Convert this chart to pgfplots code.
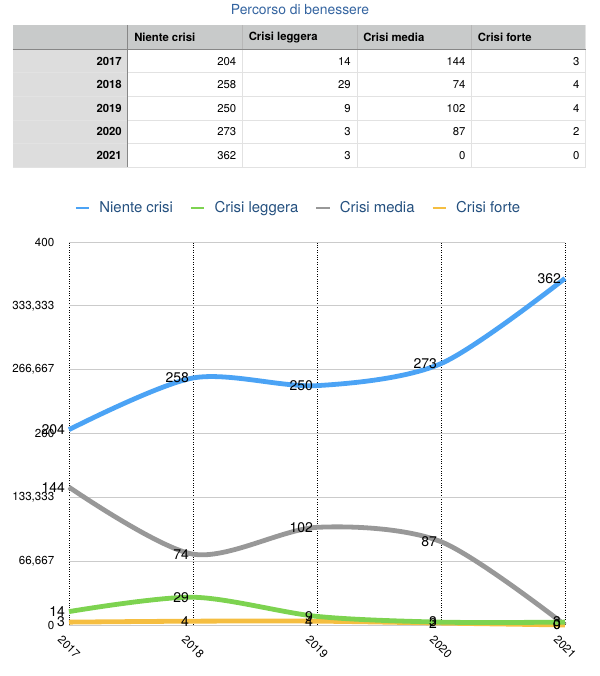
\documentclass[border=0pt]{standalone}
\usepackage{fontspec}
\setmainfont{TeX Gyre Heros}
\usepackage{pgfplots}
\pgfplotsset{compat=1.18}
\definecolor{cBlue}{RGB}{75,163,245}
\definecolor{cGreen}{RGB}{125,211,80}
\definecolor{cGray}{RGB}{152,152,152}
\definecolor{cOrange}{RGB}{245,190,65}
\definecolor{titleBlue}{RGB}{52,100,160}
\definecolor{legBlue}{RGB}{36,80,127}
\definecolor{hdrGray}{RGB}{200,202,202}
\definecolor{colGray}{RGB}{221,221,221}
\definecolor{lineGray}{RGB}{226,226,226}
\definecolor{darkLine}{RGB}{135,135,135}
\begin{document}
\begin{tikzpicture}
\useasboundingbox (0,0) rectangle (450pt,-507pt);
\begin{scope}[x=0.75pt,y=-0.75pt]
  \node[text=titleBlue, font=\fontsize{10.4}{12}\selectfont] at (300,10) {Percorso di benessere};
  % backgrounds
  \fill[hdrGray] (12.7,25) rectangle (585.7,49.3);
  \fill[colGray] (12.7,49.3) rectangle (127.7,167.3);
  % row separators
  \foreach \k in {1,2,3,4,5} {
    \draw[lineGray, line width=0.75pt] (12.7,{49.3+23.6*\k}) -- (585.7,{49.3+23.6*\k});
  }
  % column separators
  \foreach \c in {242.5,357,471.7} {
    \draw[lineGray, line width=0.75pt] (\c,49.3) -- (\c,167.3);
    \draw[darkLine!60, line width=0.6pt] (\c,25) -- (\c,49.3);
  }
  \draw[lineGray, line width=0.75pt] (585.7,25) -- (585.7,167.3);
  \draw[darkLine, line width=0.75pt] (12.7,49.3) -- (585.7,49.3);
  \draw[darkLine, line width=0.75pt] (127.7,25) -- (127.7,167.3);
  % header
  \begin{scope}[every node/.style={anchor=west, font=\fontsize{8.5}{10}\selectfont\bfseries, inner sep=0pt}]
    \node at (134,37.5) {Niente crisi};
    \node at (248.5,37.5) {Crisi leggera};
    \node at (363,37.5) {Crisi media};
    \node at (477.7,37.5) {Crisi forte};
  \end{scope}
  % years
  \begin{scope}[every node/.style={anchor=east, font=\fontsize{8.5}{10}\selectfont\bfseries, inner sep=0pt}]
    \node at (122,61.1) {2017};
    \node at (122,84.7) {2018};
    \node at (122,108.3) {2019};
    \node at (122,131.9) {2020};
    \node at (122,155.5) {2021};
  \end{scope}
  % values
  \begin{scope}[every node/.style={anchor=east, font=\fontsize{8.5}{10}\selectfont, inner sep=0pt}]
    \foreach \y/\a/\b/\c/\d in {61.1/204/14/144/3, 84.7/258/29/74/4, 108.3/250/9/102/4, 131.9/273/3/87/2, 155.5/362/3/0/0} {
      \node at (236.5,\y) {\a};
      \node at (351,\y) {\b};
      \node at (465.7,\y) {\c};
      \node at (579.7,\y) {\d};
    }
  \end{scope}
\end{scope}

\begin{axis}[
  at={(51.75pt,-468.75pt)}, anchor=south west,
  scale only axis, width=372pt, height=287.25pt,
  xmin=0, xmax=4, ymin=0, ymax=400,
  xtick={0,1,2,3,4}, xticklabels={2017,2018,2019,2020,2021},
  ytick={0,66.667,133.333,200,266.667,333.333,400},
  yticklabels={0,{66,667},{133,333},200,{266,667},{333,333},400},
  axis line style={draw=none},
  major tick length=0pt,
  xmajorgrids, ymajorgrids,
  x grid style={black, line width=0.6pt, dash pattern=on 0.6pt off 1.2pt},
  y grid style={lineGray!90!black, line width=0.75pt},
  tick label style={font=\fontsize{8.7}{10}\selectfont},
  yticklabel style={xshift=-7.5pt},
  xticklabel style={yshift=-16.5pt, rotate=-45, anchor=center},
  /pgf/number format/assume math mode=true,
  clip=false,
  legend style={at={(0.463,1.0888)}, anchor=center, draw=none, fill=none,
    legend columns=4, font=\fontsize{11.2}{13}\selectfont, text=legBlue,
    /tikz/every odd column/.append style={column sep=4.5pt},
    /tikz/every even column/.append style={column sep=10.5pt}},
  legend image code/.code={\draw[#1, line width=2.2pt] (0pt,0pt) -- (10pt,0pt);},
  every axis plot/.append style={line width=3.6pt, smooth, no markers},
  nodes near coords,
  every node near coord/.append style={font=\fontsize{10.5}{12}\selectfont, text=black, anchor=east, inner sep=1.2pt},
]
\addlegendimage{cBlue}\addlegendentry{Niente crisi}
\addlegendimage{cGreen}\addlegendentry{Crisi leggera}
\addlegendimage{cGray}\addlegendentry{Crisi media}
\addlegendimage{cOrange}\addlegendentry{Crisi forte}
\addplot[cBlue, forget plot] coordinates {(0,204) (1,258) (2,250) (3,273) (4,362)};
\addplot[cGray, forget plot] coordinates {(0,144) (1,74) (2,102) (3,87) (4,0)};
\addplot[cOrange, forget plot] coordinates {(0,3) (1,4) (2,4) (3,2) (4,0)};
\addplot[cGreen, forget plot] coordinates {(0,14) (1,29) (2,9) (3,3) (4,3)};
\end{axis}
\end{tikzpicture}
\end{document}
